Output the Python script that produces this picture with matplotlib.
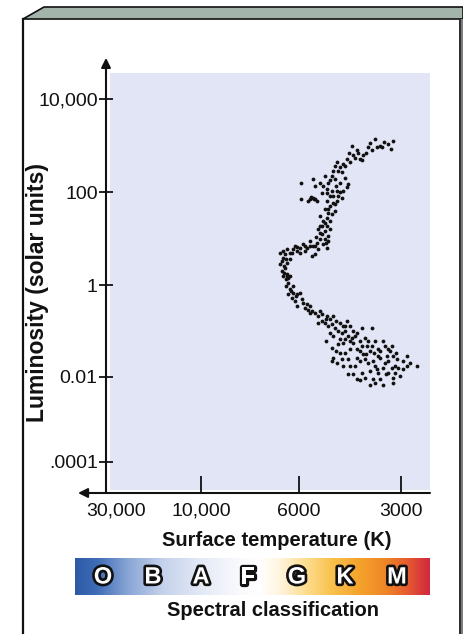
import numpy as np
import matplotlib
matplotlib.use("Agg")
import matplotlib.pyplot as plt
from matplotlib.patches import Polygon, Rectangle
from matplotlib.lines import Line2D
from matplotlib.colors import LinearSegmentedColormap
import matplotlib.patheffects as pe
from matplotlib.ticker import NullLocator

plt.rcParams['font.family'] = ['Liberation Sans', 'DejaVu Sans']

# ---- data: star surface temperature (K) and log10 luminosity (solar units)
temperature_k = [
    3580, 3370, 3280, 3170, 3215, 3460, 3530, 3655, 3805, 3885,
    3965, 4100, 4190, 4160, 4245, 4335, 4450, 4545, 4480, 4640,
    4765, 4800, 4700, 4930, 5100, 4960, 5030, 5200, 5460, 5920,
    5380, 4390, 4300, 4335, 4450, 4545, 4605, 4800, 4480, 4640,
    4765, 4860, 4960, 5130, 5460, 5570, 5645, 5310, 5380, 5920,
    4930, 4800, 4960, 4860, 5100, 5200, 5275, 5030, 5130, 4930,
    5030, 5200, 5100, 5310, 5460, 5570, 5690, 5840, 5960, 6060,
    6190, 6290, 6390, 6455, 6625, 6525, 5380, 5495, 5275, 4960,
    4930, 6625, 6455, 6560, 6390, 6355,
    4045, 3755, 3910, 4670, 4860, 4700, 5030, 4860, 5200, 5760, 6127, 5960, 6290, 5380,
    3705, 3415, 4020, 4270, 4390, 4605, 4700, 4860, 4545, 4640,
    4765, 4960, 4700, 4930, 5030, 5130, 4960, 5200, 5345, 5000,
    5570, 5760, 6060, 6225, 6525, 6560, 6420, 6490, 6525, 6420,
    6260, 6095, 5530, 5420,
    6390, 6490, 6390, 6290, 6420, 6355, 6190, 6290, 6190, 6060,
    5960, 6355, 6225, 6127, 5880, 5840, 5690, 5760, 5570, 5495,
    5380, 5275, 5130, 4960, 4860, 4765, 5130, 5030, 4930, 4800,
    4700, 4545, 4335, 4605, 4860, 4765, 4480, 4390, 4300, 4160,
    4045, 3910, 3655, 3830, 3965, 4160, 4245, 4450, 4605, 4800,
    4670, 4245, 4045, 3780, 3580, 3390, 3345, 3705, 3505, 3885,
    4045, 4300, 4480, 4765, 4800, 4640, 3965, 3830, 3630, 3460,
    3300, 3170, 3085, 3280, 2880, 2880, 2690, 3060, 3190, 3390,
    3530, 3705, 3910, 4160, 4300, 4045, 3830, 3630, 3020, 3170,
    3390, 3705,
    4390, 4190, 3755, 3505, 3235, 3125, 4390, 4100, 3320, 3460,
    2960, 2820, 5000, 3910, 6060, 5645, 5275, 4545, 3605, 3190,
    5570, 5200, 5000, 4670, 4450, 4245, 4100, 4390, 3965, 3655,
    3460, 3280, 3105, 3345, 3580, 3755, 4245, 4450, 4545, 3280,
    3505, 3125, 2960, 3965, 3580, 3170, 3805,
]
log_luminosity = [
    3.13, 3.07, 3.03, 3.09, 2.92, 3.00, 2.96, 2.90, 2.85, 2.79,
    2.72, 2.74, 2.98, 2.79, 2.64, 2.70, 2.61, 2.53, 2.42, 2.64,
    2.46, 2.35, 2.29, 2.20, 2.14, 2.07, 2.35, 2.20, 2.29, 2.20,
    2.14, 2.31, 2.18, 2.10, 2.03, 1.99, 1.92, 2.03, 1.88, 1.81,
    1.77, 1.71, 1.81, 1.97, 1.88, 1.86, 1.81, 1.81, 1.86, 1.84,
    1.64, 1.53, 1.45, 1.38, 1.38, 1.49, 1.21, 1.16, 1.10, 1.06,
    0.99, 0.99, 0.88, 0.90, 0.84, 0.95, 0.80, 0.88, 0.80, 0.73,
    0.77, 0.69, 0.77, 0.67, 0.69, 0.58, 0.67, 0.62, 0.77, 0.80,
    0.95, 0.45, 0.36, 0.30, 0.19, 0.15,
    2.90, 2.96, 2.68, 2.14, 1.92, 1.60, 1.34, 1.21, 1.27, 0.73, 0.84, 0.69, 0.56, 0.84,
    3.05, 2.96, 2.85, 2.85, 2.57, 2.46, 2.57, 2.25, 2.20, 2.03,
    1.92, 1.97, 1.75, 1.55, 1.64, 1.27, 1.27, 1.12, 1.03, 0.90,
    0.84, 0.84, 0.82, 0.69, 0.73, 0.51, 0.56, 0.40, 0.19, -0.03,
    -0.13, -0.24, 1.90, 1.84,
    0.47, 0.26, 0.23, 0.19, 0.13, 0.04, -0.03, -0.09, -0.18, -0.20,
    -0.18, -0.20, -0.29, -0.35, -0.31, -0.39, -0.42, -0.50, -0.46, -0.57,
    -0.61, -0.68, -0.63, -0.68, -0.74, -0.68, -0.78, -0.83, -0.89, -0.85,
    -0.94, -0.83, -0.78, -1.00, -1.04, -1.11, -1.04, -1.00, -1.11, -1.00,
    -1.04, -0.94, -0.94, -1.15, -1.22, -1.26, -1.22, -1.26, -1.28, -1.37,
    -1.43, -1.39, -1.39, -1.32, -1.22, -1.22, -1.32, -1.43, -1.39, -1.50,
    -1.58, -1.61, -1.61, -1.58, -1.65, -1.69, -1.65, -1.61, -1.65, -1.58,
    -1.54, -1.54, -1.61, -1.65, -1.54, -1.76, -1.76, -1.80, -1.80, -1.80,
    -1.82, -1.87, -1.91, -1.93, -1.93, -2.04, -2.02, -2.04, -1.97, -2.13,
    -2.19, -2.19,
    -0.89, -1.15, -1.22, -1.54, -1.43, -1.76, -1.48, -1.76, -1.93, -2.04,
    -1.65, -1.69, -1.22, -1.32, -0.46, -0.55, -0.83, -1.17, -1.47, -1.32,
    -0.61, -0.57, -0.74, -0.78, -0.89, -0.89, -1.11, -1.17, -1.43, -1.32,
    -1.43, -1.39, -1.48, -1.69, -1.76, -1.69, -1.76, -1.76, -1.48, -1.91,
    -1.91, -1.91, -1.82, -2.08, -2.15, -2.02, -1.50,
]

temp_ticks = [30000, 10000, 6000, 3000]
temp_tick_labels = ["30,000", "10,000", "6000", "3000"]
lum_ticks = [1e4, 1e2, 1, 1e-2, 1e-4]
lum_tick_labels = ["10,000", "100", "1", "0.01", ".0001"]
spectral_classes = ["O", "B", "A", "F", "G", "K", "M"]

# ---- layout helpers (pixel -> figure fraction)
W, H = 463, 634
def fx(px):
    return px / W
def fy(py):
    return 1 - py / H

fig = plt.figure(figsize=(W / 100, H / 100), dpi=100)
fig.patch.set_facecolor("white")

# ---- outer frame (bevelled panel)
fig.add_artist(Polygon([(fx(23), fy(19)), (fx(44), fy(7)), (fx(463), fy(7)), (fx(463), fy(19))],
                       closed=True, transform=fig.transFigure, facecolor="#a3b4ab",
                       edgecolor="#111111", lw=1.2))
fig.add_artist(Rectangle((fx(459), 0), fx(463) - fx(459), fy(19), transform=fig.transFigure,
                         facecolor="#7d7d7d", edgecolor="none"))
fig.add_artist(Line2D([fx(459.5), fx(459.5)], [0, fy(19)], transform=fig.transFigure,
                      color="#222222", lw=1.2))
fig.add_artist(Line2D([fx(23), fx(23)], [0, fy(19)], transform=fig.transFigure,
                      color="#111111", lw=1.6))

# ---- main axes
ax = fig.add_axes([fx(106), fy(493), (430 - 106) / W, (493 - 73) / H])
ax.set_facecolor("none")

# nonuniform schematic temperature axis (increasing in T, axis inverted via limits)
t_anchor = np.array([1500, 3000, 6000, 10000, 30000, 60000], float)
t_pos = np.array([-503, -401, -299, -201, -116, -62.4], float)
def t_fwd(t):
    t = np.asarray(t, float)
    with np.errstate(all="ignore"):
        lt = np.log10(t)
    return np.interp(lt, np.log10(t_anchor), t_pos)
def t_inv(p):
    return 10 ** np.interp(np.asarray(p, float), t_pos, np.log10(t_anchor))

l_anchor = np.array([-6, -4, -2, 0, 2, 4, 6], float)
l_pos = np.array([-547, -462, -377, -285, -192, -99, -6], float)
def l_fwd(v):
    v = np.asarray(v, float)
    with np.errstate(all="ignore"):
        lv = np.log10(v)
    return np.interp(lv, l_anchor, l_pos)
def l_inv(p):
    return 10 ** np.interp(np.asarray(p, float), l_pos, l_anchor)

ax.set_xscale("function", functions=(t_fwd, t_inv))
ax.set_yscale("function", functions=(l_fwd, l_inv))
ax.set_xlim(34100, 2460)
ax.set_ylim(10 ** -4.73, 10 ** 4.56)

# lavender plot background
ax.add_patch(Rectangle((4 / 324, 3 / 420), 1 - 4 / 324, 1 - 3 / 420, transform=ax.transAxes,
                       facecolor="#e2e5f5", edgecolor="none", zorder=0))

ax.scatter(temperature_k, 10 ** np.array(log_luminosity), s=7.5, c="#111111",
           marker="o", linewidths=0, zorder=3)

for s in ax.spines.values():
    s.set_visible(False)

ax.set_xticks(temp_ticks)
ax.set_xticklabels(temp_tick_labels)
ax.set_yticks(lum_ticks)
ax.set_yticklabels(lum_tick_labels)
ax.xaxis.set_minor_locator(NullLocator())
ax.yaxis.set_minor_locator(NullLocator())
ax.tick_params(axis="x", direction="in", length=12, width=1.3, pad=7, labelsize=14,
               colors="#111111")
ax.tick_params(axis="y", direction="inout", length=10, width=1.3, pad=1, labelsize=14,
               colors="#111111")
ax.xaxis.get_major_ticks()[0].tick1line.set_visible(False)

# axes with arrow heads
ax.annotate("", xy=(0, 1.036), xytext=(0, 0), xycoords="axes fraction",
            arrowprops=dict(arrowstyle="-|>", lw=1.5, color="#111111", mutation_scale=14,
                            shrinkA=0, shrinkB=0), annotation_clip=False)
ax.annotate("", xy=(-0.0864, 0), xytext=(1, 0), xycoords="axes fraction",
            arrowprops=dict(arrowstyle="-|>", lw=1.5, color="#111111", mutation_scale=14,
                            shrinkA=0, shrinkB=0), annotation_clip=False)

# axis titles
fig.text(fx(277), fy(540), "Surface temperature (K)", ha="center", va="center",
         fontsize=14.5, fontweight="bold", color="#111111")
fig.text(fx(38), fy(292), "Luminosity (solar units)", ha="center", va="center",
         rotation=90, fontsize=16.5, fontweight="bold", color="#111111")

# ---- spectral classification bar
cmap = LinearSegmentedColormap.from_list("spec", [
    (0.0, "#2d5aa6"), (0.06, "#3f6cb6"), (0.15, "#8aa6d6"), (0.25, "#c7d3ec"),
    (0.36, "#e4eaf6"), (0.45, "#f7f8fc"), (0.52, "#ffffff"), (0.58, "#fff4dc"),
    (0.64, "#fde29a"), (0.72, "#f9c350"), (0.80, "#f4a42c"), (0.88, "#ee8426"),
    (0.94, "#e55a30"), (1.0, "#d0283e")])
ax2 = fig.add_axes([fx(75), fy(595), (430 - 75) / W, (595 - 558) / H])
ax2.imshow(np.linspace(0, 1, 256)[None, :], aspect="auto", cmap=cmap, extent=(0, 1, 0, 1))
ax2.axis("off")

letter_x = [103, 153, 201, 248, 297, 345, 397]
for lx, letter in zip(letter_x, spectral_classes):
    fig.text(fx(lx), fy(577), letter, ha="center", va="center", fontsize=17,
             fontweight="bold", color="white",
             path_effects=[pe.withStroke(linewidth=3.8, foreground="#111111")])

fig.text(fx(273), fy(610), "Spectral classification", ha="center", va="center",
         fontsize=14.5, fontweight="bold", color="#111111")

fig.savefig("out.png", dpi=100)
